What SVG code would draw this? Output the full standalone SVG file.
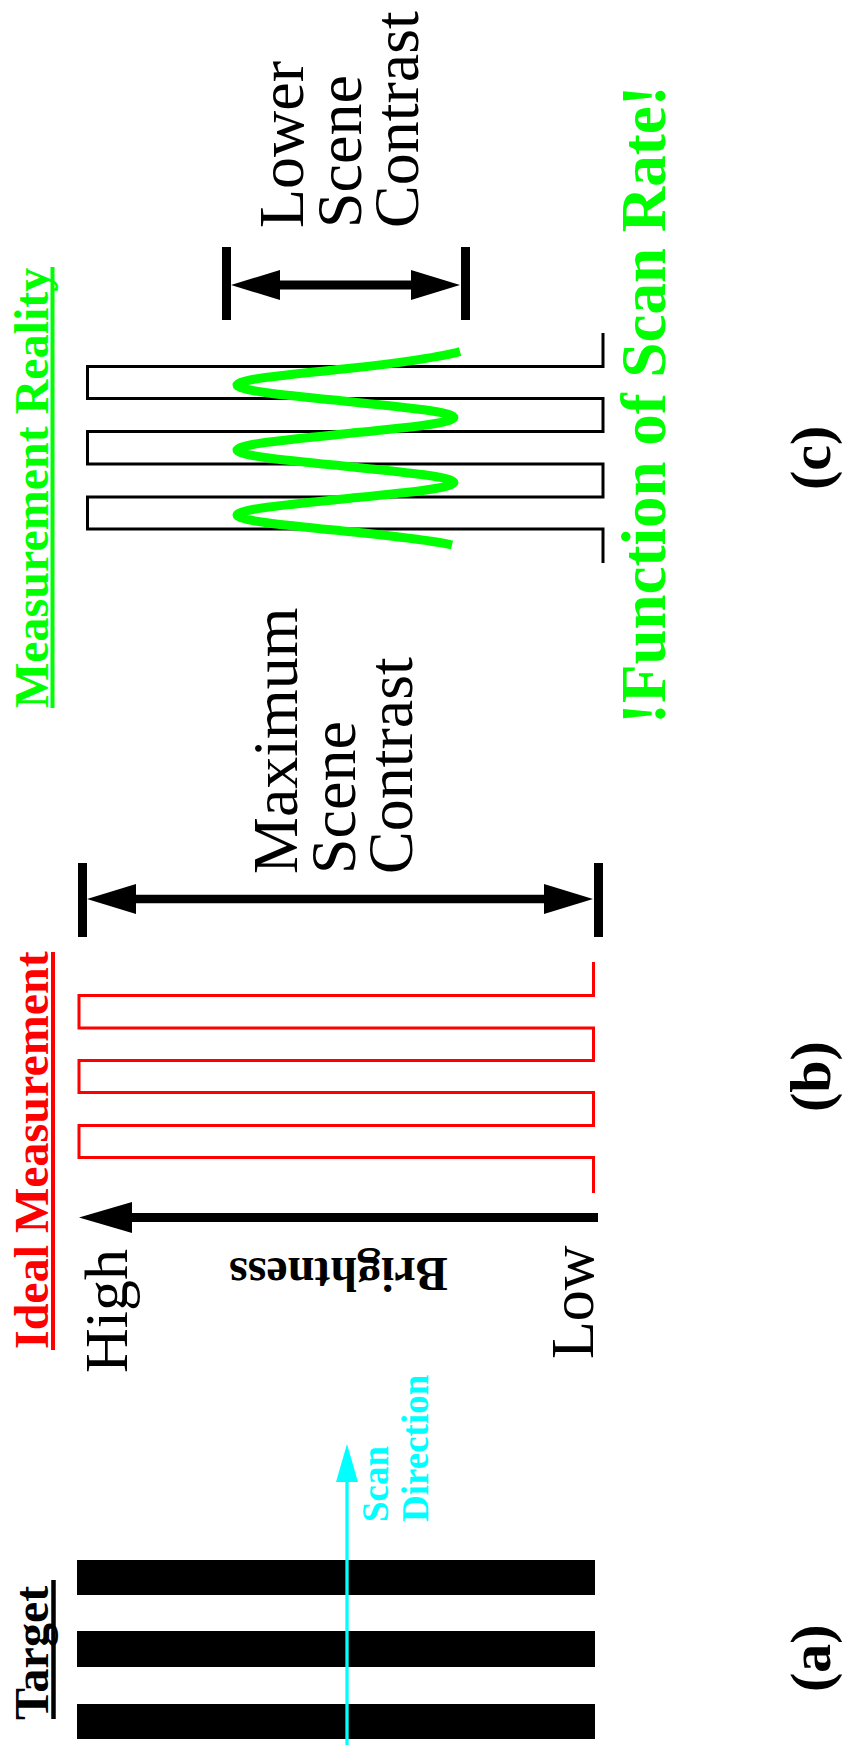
<svg xmlns="http://www.w3.org/2000/svg" width="850" height="1753" viewBox="0 0 850 1753">
<defs>
<style>
text{font-family:"Liberation Serif","Times New Roman",serif}
.b{font-weight:bold}
.blk{fill:#000}
.wave{fill:none;stroke-width:3}
.ax{fill:none;stroke:#000}
</style>
<marker id="ah" markerUnits="userSpaceOnUse" viewBox="0 -15 49 30" refX="0" refY="0" markerWidth="49" markerHeight="30" orient="auto-start-reverse"><path d="M0,-15 L49,0 L0,15 z" fill="#000"/></marker>
<marker id="ahB" markerUnits="userSpaceOnUse" viewBox="0 -15.5 53 31" refX="0" refY="0" markerWidth="53" markerHeight="31" orient="auto"><path d="M0,-15.5 L53,0 L0,15.5 z" fill="#000"/></marker>
<marker id="ahC" markerUnits="userSpaceOnUse" viewBox="0 -11 38 22" refX="0" refY="0" markerWidth="38" markerHeight="22" orient="auto"><path d="M0,-11 L38,0 L0,11 z" fill="#00ffff"/></marker>
</defs>
<rect width="850" height="1753" fill="#fff"/>

<g id="panel-a" font-family="Liberation Serif, Times New Roman, serif">
<text class="b" font-size="48" fill="#000" transform="translate(48,1720) rotate(-90)">Target</text>
<line x1="53.5" y1="1580" x2="53.5" y2="1719" stroke="#000" stroke-width="4.5"/>
<rect class="blk" x="77" y="1560" width="518" height="35"/>
<rect class="blk" x="77" y="1631" width="518" height="36"/>
<rect class="blk" x="77" y="1704" width="518" height="35"/>
<text class="b" font-size="37" fill="#00ffff" transform="translate(388,1522) rotate(-90)">Scan</text>
<text class="b" font-size="37" fill="#00ffff" transform="translate(428,1522) rotate(-90)">Direction</text>
<text class="b" font-size="58" fill="#000" transform="translate(830,1692) rotate(-90)">(a)</text>
</g>

<g id="panel-b" font-family="Liberation Serif, Times New Roman, serif">
<text class="b" font-size="48" fill="#ff0000" transform="translate(48,1349) rotate(-90)">Ideal Measurement</text>
<line x1="53" y1="952" x2="53" y2="1350" stroke="#ff0000" stroke-width="4"/>
<text font-size="62" fill="#000" transform="translate(127,1373) rotate(-90)">High</text>
<text font-size="62" fill="#000" transform="translate(593,1359) rotate(-90)">Low</text>
<text class="b" font-size="48" fill="#000" text-anchor="middle" transform="translate(338.5,1258) rotate(180)">Brightness</text>
<path class="wave" stroke="#ff0000" d="M593.5,962 V995.5 H79 V1028 H593.5 V1060.5 H79 V1092.5 H593.5 V1125.5 H79 V1157.5 H593.5 V1193"/>
<rect class="blk" x="78" y="863" width="9" height="74"/>
<rect class="blk" x="594" y="863" width="9" height="74"/>
<text font-size="64" fill="#000" transform="translate(297,874) rotate(-90)">Maximum</text>
<text font-size="64" fill="#000" transform="translate(355,874) rotate(-90)">Scene</text>
<text font-size="64" fill="#000" transform="translate(412,874) rotate(-90)">Contrast</text>
<text class="b" font-size="58" fill="#000" transform="translate(830,1112) rotate(-90)">(b)</text>
</g>

<g id="panel-c" font-family="Liberation Serif, Times New Roman, serif">
<text class="b" font-size="48" fill="#00ff00" transform="translate(48,708) rotate(-90)">Measurement Reality</text>
<line x1="52.5" y1="267" x2="52.5" y2="708" stroke="#00ff00" stroke-width="4"/>
<path class="wave" stroke="#000" d="M603,333 V366.5 H87.5 V398.5 H603 V431.5 H87.5 V464 H603 V497 H87.5 V529 H603 V563"/>
<path fill="none" stroke="#00ff00" stroke-width="9" d="M460,351.5 C445,356 398.4,363.45 345.5,368.75 C292.6,374.05 237,379.12 237,385 C237,390.88 292.6,395.95 345.5,401.25 C398.4,406.55 454,411.62 454,417.5 C454,423.38 398.4,428.45 345.5,433.75 C292.6,439.05 237,444.12 237,450 C237,455.88 292.6,460.95 345.5,466.25 C398.4,471.55 454,476.62 454,482.5 C454,488.38 398.4,493.45 345.5,498.75 C292.6,504.05 237,509.12 237,515 C237,520.88 292.6,525.95 345.5,531.25 C398.4,536.55 440,542 452,545"/>
<rect class="blk" x="222" y="247" width="9" height="73"/>
<rect class="blk" x="461" y="247" width="9" height="73"/>
<text font-size="64" fill="#000" transform="translate(303,228) rotate(-90)">Lower</text>
<text font-size="64" fill="#000" transform="translate(360.5,228) rotate(-90)">Scene</text>
<text font-size="64" fill="#000" transform="translate(418,228) rotate(-90)">Contrast</text>
<text class="b" font-size="63" fill="#00ff00" transform="translate(665,724) rotate(-90)">!Function of Scan Rate!</text>
<text class="b" font-size="58" fill="#000" transform="translate(830,490) rotate(-90)">(c)</text>
</g>

<g id="connectors">
<path d="M347,1745 V1482" stroke="#00ffff" stroke-width="3.3" fill="none" marker-end="url(#ahC)"/>
<path class="ax" d="M598,1217.5 H132" stroke-width="9" marker-end="url(#ahB)"/>
<path class="ax" d="M136,899 H544" stroke-width="8.5" marker-start="url(#ah)" marker-end="url(#ah)"/>
<path class="ax" d="M280,285 H411" stroke-width="9" marker-start="url(#ah)" marker-end="url(#ah)"/>
</g>
</svg>
